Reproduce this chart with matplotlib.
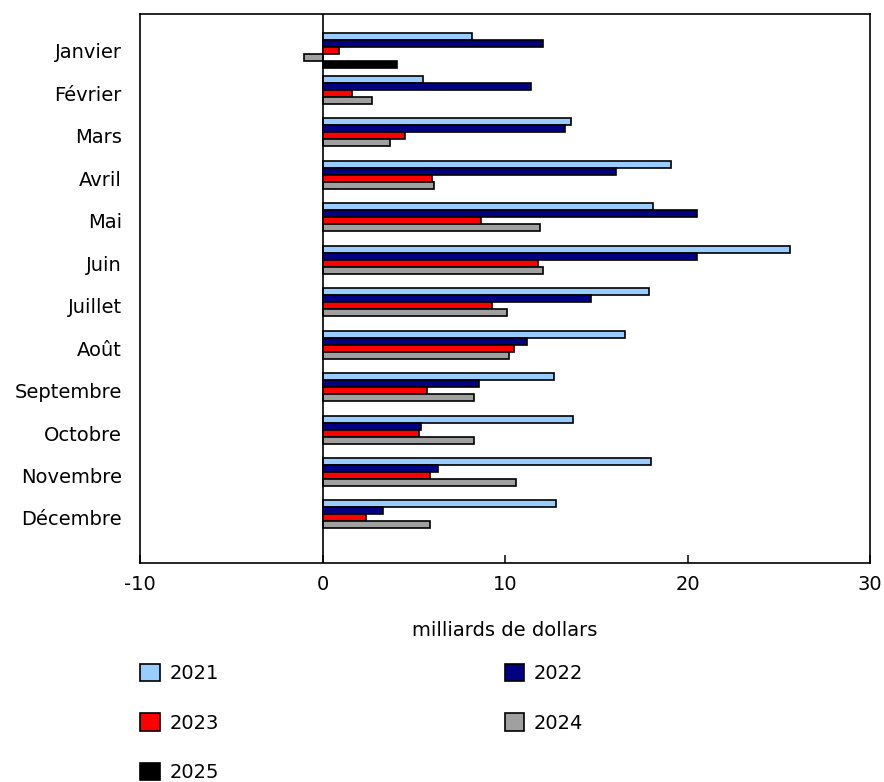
import numpy as np
import matplotlib
matplotlib.use("Agg")
import matplotlib.pyplot as plt
from matplotlib.patches import Patch

# month labels (top to bottom)
months = ["Janvier", "Février", "Mars", "Avril", "Mai", "Juin", "Juillet",
          "Août", "Septembre", "Octobre", "Novembre", "Décembre"]

years = ["2021", "2022", "2023", "2024", "2025"]
colors = ["#99CCFF", "#000080", "#FF0000", "#A0A0A0", "#000000"]

# values in billions of dollars
v2021 = [8.2, 5.5, 13.6, 19.1, 18.1, 25.6, 17.9, 16.6, 12.7, 13.7, 18.0, 12.8]
v2022 = [12.1, 11.4, 13.3, 16.1, 20.5, 20.5, 14.7, 11.2, 8.6, 5.4, 6.3, 3.3]
v2023 = [0.9, 1.6, 4.5, 6.0, 8.7, 11.8, 9.3, 10.5, 5.7, 5.3, 5.9, 2.4]
v2024 = [-1.0, 2.7, 3.7, 6.1, 11.9, 12.1, 10.1, 10.2, 8.3, 8.3, 10.6, 5.9]
v2025 = [4.1]

series = [v2021, v2022, v2023, v2024, v2025]

fs = 14
fig = plt.figure(figsize=(8.84, 7.82), dpi=100)
ax = fig.add_axes([0.1584, 0.2801, 0.8258, 0.7020])

pos = np.arange(len(months))
h = 0.165
for k, vals in enumerate(series):
    y = pos[:len(vals)] + (k - 2) * h
    ax.barh(y, vals, height=h, color=colors[k], edgecolor="black",
            linewidth=1.2, label=years[k], zorder=3)

ax.axvline(0, color="black", linewidth=1.2, zorder=4)

ax.set_xlim(-10, 30)
ax.set_ylim(len(months) - 1 + 1.06, -0.87)
ax.set_xticks([-10, 0, 10, 20, 30])
ax.set_xticklabels(["-10", "0", "10", "20", "30"])
ax.set_yticks(pos)
ax.set_yticklabels(months)
ax.tick_params(axis="x", direction="in", length=6, width=1.1, pad=9, labelsize=fs)
ax.tick_params(axis="y", length=0, pad=13, labelsize=fs)
for s in ax.spines.values():
    s.set_linewidth(1.2)
ax.set_xlabel("milliards de dollars", fontsize=fs, labelpad=19)

# legend in row order: 2021 2022 / 2023 2024 / 2025
handles = [Patch(facecolor=colors[k], edgecolor="black", linewidth=1.2) for k in range(5)]
order = [0, 2, 4, 1, 3]
fig.legend([handles[i] for i in order], [years[i] for i in order],
           ncol=2, loc="upper left", bbox_to_anchor=(0.150, 0.161),
           frameon=False, fontsize=fs, handlelength=1.0, handleheight=1.0,
           handletextpad=0.5, labelspacing=1.55, columnspacing=14.7,
           borderaxespad=0)

fig.savefig("out.png", dpi=100)
